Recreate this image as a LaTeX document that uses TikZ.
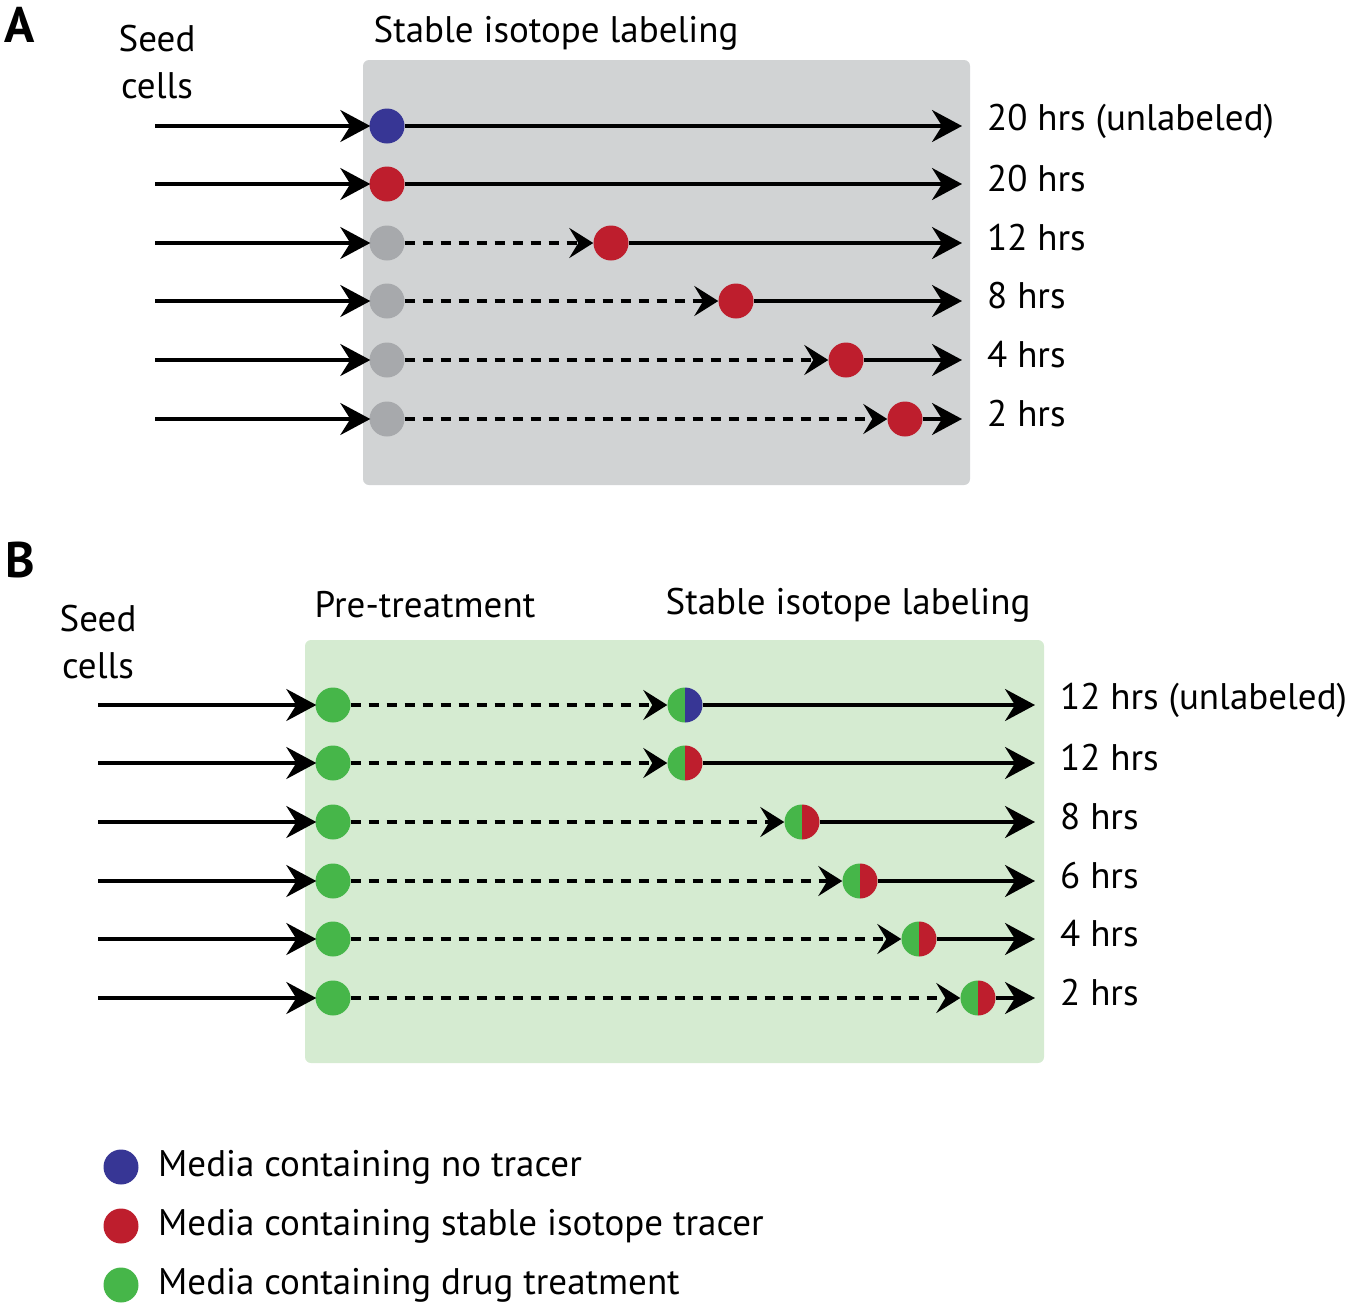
\documentclass[tikz,border=0pt]{standalone}
\usepackage{fontspec}
\setmainfont{PT Sans}
\usetikzlibrary{arrows.meta}
\definecolor{cb}{HTML}{373695}
\definecolor{cr}{HTML}{BE1E2D}
\definecolor{cg}{HTML}{A7A9AC}
\definecolor{cgn}{HTML}{46B649}
\definecolor{boxg}{HTML}{D1D3D4}
\definecolor{boxgn}{HTML}{D5EBD1}
\begin{document}
\begin{tikzpicture}[x=1pt,y=-1pt,
 arr/.style={line width=3.6pt,-{Stealth[length=30pt,width=32pt,inset=10pt]}},
 darr/.style={line width=3.6pt,dash pattern=on 10pt off 8pt,-{Stealth[length=24pt,width=30pt,inset=9pt]}},
 dot/.style={circle,minimum size=35pt,inner sep=0pt,fill=#1},
 lab/.style={font=\fontsize{37}{44}\selectfont,anchor=west,inner sep=0pt},
 ttl/.style={font=\fontsize{37}{47}\selectfont,inner sep=0pt,align=center}]
\useasboundingbox (0,0) rectangle (1350,1307);
\node[font=\fontsize{50}{50}\selectfont\bfseries] (A) at (20,25) {A};
\node[font=\fontsize{50}{50}\selectfont\bfseries] (B) at (20,560) {B};
% panel A
\fill[boxg,rounded corners=6pt] (363,60) rectangle (970,485);
\node[ttl] (sa) at (157,62) {Seed\\cells};
\node[ttl] (ta) at (556,33) {Stable isotope labeling};
\foreach \y/\c/\x/\t [count=\i] in {126/cb/0/20 hrs (unlabeled),184/cr/0/20 hrs,243/cg/611/12 hrs,301/cg/736/8 hrs,360/cg/846/4 hrs,419/cg/905/2 hrs}{
 \coordinate (s\i) at (155,\y);
 \node[dot=\c] (d\i) at (387,\y) {};
 \coordinate (e\i) at (962,\y);
 \node[lab] (l\i) at (987,\y-5) {\t};
 \draw[arr,shorten >=-1pt] (s\i) -- (d\i.west);
 \ifnum\x>0
  \node[dot=cr] (r\i) at (\x,\y) {};
  \draw[darr] (d\i.east) -- (r\i.west);
  \draw[arr] (r\i.east) -- (e\i);
 \else
  \draw[arr] (d\i.east) -- (e\i);
 \fi
}
% panel B
\fill[boxgn,rounded corners=6pt] (305,640) rectangle (1044,1063);
\node[ttl] (sb) at (98,642) {Seed\\cells};
\node[ttl] (pb) at (425,605) {Pre-treatment};
\node[ttl] (tb) at (848,605) {Stable isotope labeling};
\foreach \y/\c/\x/\t [count=\i] in {705/cb/685/12 hrs (unlabeled),763/cr/685/12 hrs,822/cr/802/8 hrs,881/cr/860/6 hrs,939/cr/919/4 hrs,998/cr/978/2 hrs}{
 \coordinate (bs\i) at (98,\y);
 \node[dot=cgn] (bd\i) at (333,\y) {};
 \coordinate (be\i) at (1035,\y);
 \node[lab] (bl\i) at (1060,\y-5) {\t};
 \draw[arr,shorten >=-1pt] (bs\i) -- (bd\i.west);
 \node[circle,minimum size=35pt,inner sep=0pt] (bh\i) at (\x,\y) {};
 \fill[cgn] (\x,\y+17.5) arc[start angle=90,end angle=270,radius=17.5] -- cycle;
 \fill[\c] (\x,\y+17.5) arc[start angle=90,end angle=-90,radius=17.5] -- cycle;
 \draw[darr] (bd\i.east) -- (bh\i.west);
 \draw[arr] (bh\i.east) -- (be\i);
}
% legend
\foreach \y/\c/\t [count=\i] in {1167/cb/Media containing no tracer,1226/cr/Media containing stable isotope tracer,1285/cgn/Media containing drug treatment}{
 \node[dot=\c] (g\i) at (121,\y) {};
 \node[lab] (gt\i) at (158,\y) {\t};
}
\end{tikzpicture}
\end{document}
